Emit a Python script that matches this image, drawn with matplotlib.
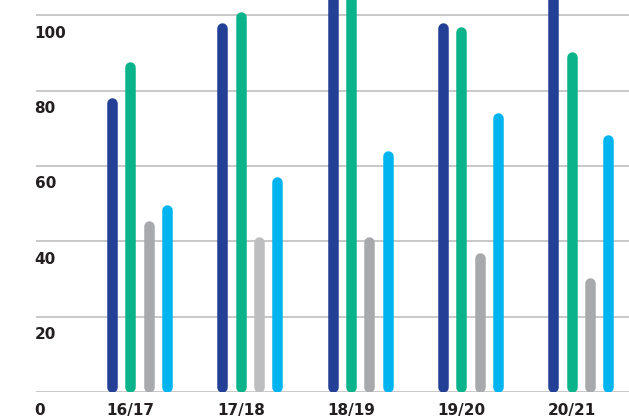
import matplotlib
matplotlib.use("Agg")
import matplotlib.pyplot as plt
from matplotlib.transforms import blended_transform_factory, ScaledTranslation

# Seasons and the four series per season
seasons = ["16/17", "17/18", "18/19", "19/20", "20/21"]
series_a = [78, 98, 110, 98, 110]     # navy
series_b = [87.5, 101, 110, 97, 90.3]  # green
series_c = [45.5, 41.3, 41.3, 36.9, 30.5]  # grey
series_d = [49.7, 57.1, 64, 74, 68.2]  # light blue
y_ticks = [0, 20, 40, 60, 80, 100]

colors = ["#233F96", "#0BB38B", "#A7A9AC", "#00B5EF"]
grey_shades = ["#A7A9AC", "#BCBEC0", "#A7A9AC", "#A7A9AC", "#A7A9AC"]

W, H, DPI = 629, 417, 100
fig = plt.figure(figsize=(W / DPI, H / DPI), dpi=DPI)

left_px, right_px = 36, 629
bottom_px, top_px = 392.3, 0.0
ax = fig.add_axes([left_px / W, (H - bottom_px) / H,
                   (right_px - left_px) / W, (bottom_px - top_px) / H])

ymax = 104
ax.set_ylim(0, ymax)
group_px = 110.3
first_px = 112
ax.set_xlim((left_px - first_px) / group_px, (right_px - first_px) / group_px)
ax.axis("off")

# horizontal grid
for t in y_ticks:
    ax.axhline(t, color="#C4C4C4", lw=1.3, zorder=1)

# rounded bars drawn as thick lines with round caps
bar_px = 10.5
lw_pt = bar_px * 72 / DPI
px_per_unit = (bottom_px - top_px) / ymax
r = (bar_px / 2) / px_per_unit
offset = 18.3 / group_px

all_series = [series_a, series_b, series_c, series_d]
for j, vals in enumerate(all_series):
    for i, v in enumerate(vals):
        c = grey_shades[i] if j == 2 else colors[j]
        x = i + j * offset
        ax.plot([x, x], [r, v - r], color=c, lw=lw_pt,
                solid_capstyle="round", zorder=3)

font = dict(family=["DejaVu Sans"], fontweight="bold",
            fontsize=11, color="#231F20")

# y labels sit just below their grid lines
ytrans = blended_transform_factory(fig.transFigure, ax.transData) + \
    ScaledTranslation(0, -18 / DPI, fig.dpi_scale_trans)
for t in y_ticks:
    ax.text(34.5 / W, t, str(t), transform=ytrans, ha="left", va="center",
            clip_on=False, **font)

# season labels aligned with the first bar of each group
xtrans = ax.transData + ScaledTranslation(-bar_px / 2 / DPI, -18 / DPI,
                                          fig.dpi_scale_trans)
for i, s in enumerate(seasons):
    ax.text(i, 0, s, transform=xtrans, ha="left", va="center",
            clip_on=False, **font)

fig.savefig("out.png", dpi=DPI)
